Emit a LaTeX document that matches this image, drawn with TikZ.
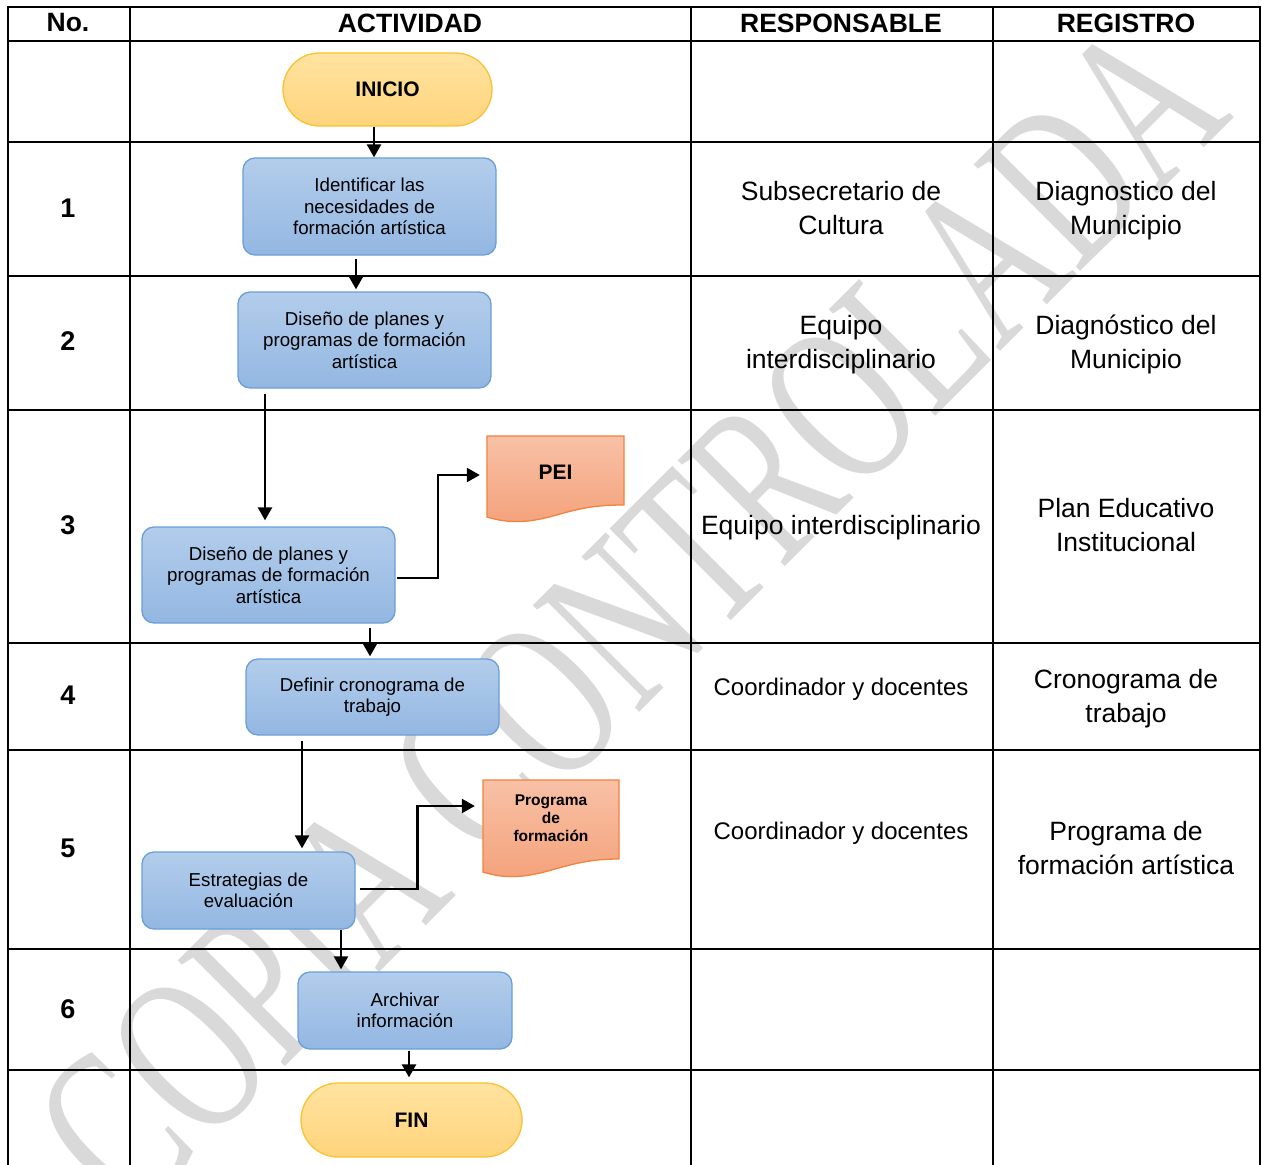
\documentclass[tikz,border=0pt]{standalone}
\usepackage{fontspec}
\setmainfont{Liberation Sans}
\newfontfamily\wmfont{Liberation Serif}
\usetikzlibrary{arrows.meta,shapes.misc}
\definecolor{bluetop}{HTML}{B3CDEB}
\definecolor{bluebot}{HTML}{93B7E2}
\definecolor{blueedge}{HTML}{6A9FDA}
\definecolor{yeltop}{HTML}{FFE3A0}
\definecolor{yelbot}{HTML}{FFD47C}
\definecolor{yeledge}{HTML}{F8C232}
\definecolor{ortop}{HTML}{F8C1A6}
\definecolor{orbot}{HTML}{F4A27B}
\definecolor{oredge}{HTML}{F0843F}
\definecolor{wmgray}{HTML}{D9D9D9}
\begin{document}
\begin{tikzpicture}[x=1pt,y=-1pt,
  gridline/.style={line width=2.2pt,black},
  actbox/.style={rectangle,rounded corners=12pt,draw=blueedge,line width=1.3pt,
    top color=bluetop,bottom color=bluebot,align=center,inner sep=0pt,
    font=\fontsize{18.7}{21.5}\selectfont},
  term/.style={rounded rectangle,draw=yeledge,line width=1.3pt,
    top color=yeltop,bottom color=yelbot,inner sep=0pt,
    font=\bfseries\fontsize{21}{24}\selectfont},
  docshape/.style={draw=oredge,line width=1.3pt,top color=ortop,bottom color=orbot},
  doctext/.style={align=center,inner sep=0pt,font=\bfseries\fontsize{21}{24}\selectfont},
  hdr/.style={font=\bfseries\fontsize{26.5}{30}\selectfont,inner sep=0pt},
  num/.style={font=\bfseries\fontsize{27}{30}\selectfont,inner sep=0pt},
  cell/.style={align=center,inner sep=0pt,font=\fontsize{26.5}{34}\selectfont},
  cellsm/.style={align=center,inner sep=0pt,font=\fontsize{24}{30}\selectfont},
  arr/.style={line width=2.4pt,black,-{Triangle[length=13pt,width=14pt]}},
  conn/.style={line width=2.4pt,black}
]
\useasboundingbox (0,0) rectangle (1262,1165);
\fill[white] (0,0) rectangle (1262,1165);

% watermark
\node[rotate=45,text=wmgray,inner sep=0pt,font=\wmfont\fontsize{230}{230}\selectfont] (wm) at (630,616)
  {\scalebox{0.67}[1]{COPIA CONTROLADA}};

% table grid
\foreach \x in {8,130,691,993,1260} \draw[gridline] (\x,6) -- (\x,1165);
\foreach \y in {7,41,142,276,410,643,750,949,1070} \draw[gridline] (7,\y) -- (1261,\y);

% headers
\node[hdr] (hno) at (68,23) {No.};
\node[hdr] (hact) at (410,23) {ACTIVIDAD};
\node[hdr] (hres) at (841,23) {RESPONSABLE};
\node[hdr] (hreg) at (1126,23) {REGISTRO};

% numbers
\node[num] (n1) at (68,208) {1};
\node[num] (n2) at (68,341) {2};
\node[num] (n3) at (68,525) {3};
\node[num] (n4) at (68,695) {4};
\node[num] (n5) at (68,848) {5};
\node[num] (n6) at (68,1009) {6};

% responsable
\node[cell] (r1) at (841,208) {Subsecretario de\\Cultura};
\node[cell] (r2) at (841,344.5) {Equipo\\interdisciplinario};
\node[cell] (r3) at (841,528) {Equipo interdisciplinario};
\node[cellsm] (r4) at (841,689) {Coordinador y docentes};
\node[cellsm] (r5) at (841,833) {Coordinador y docentes};

% registro
\node[cell] (g1) at (1126,211) {Diagnostico del\\Municipio};
\node[cell] (g2) at (1126,344) {Diagnóstico del\\Municipio};
\node[cell] (g3) at (1126,525) {Plan Educativo\\Institucional};
\node[cell] (g4) at (1126,699) {Cronograma de\\trabajo};
\node[cell] (g5) at (1126,848.5) {Programa de\\formación artística};

% document shapes
\path[docshape] (487,436) -- (624,436) -- (624,505)
  .. controls (600,505) and (585,507) .. (560,514)
  .. controls (530,523) and (510,524) .. (487,517) -- cycle;
\node[doctext,minimum width=137pt] (pei) at (555.5,472) {PEI};

\path[docshape] (483,780) -- (619,780) -- (619,859)
  .. controls (595,859) and (580,862) .. (555,869)
  .. controls (525,878) and (505,879) .. (483,872) -- cycle;
\node[doctext,minimum width=136pt,font=\bfseries\fontsize{15.5}{18}\selectfont] (prog) at (551,818) {Programa\\de\\formación};

% flow nodes
\node[term,minimum width=209pt,minimum height=73pt] (ini) at (387.5,89.5) {INICIO};
\node[actbox,minimum width=253pt,minimum height=97pt] (b1) at (369.5,206.5) {Identificar las\\necesidades de\\formación artística};
\node[actbox,minimum width=253pt,minimum height=96pt] (b2) at (364.5,340) {Diseño de planes y\\programas de formación\\artística};
\node[actbox,minimum width=253pt,minimum height=96pt] (b3) at (268.5,575) {Diseño de planes y\\programas de formación\\artística};
\node[actbox,minimum width=253pt,minimum height=76pt] (b4) at (372.5,697) {Definir cronograma de\\trabajo};
\node[actbox,minimum width=213pt,minimum height=77pt] (b5) at (248.5,890.5) {Estrategias de\\evaluación};
\node[actbox,minimum width=214pt,minimum height=77pt] (b6) at (405,1010.5) {Archivar\\información};
\node[term,minimum width=221pt,minimum height=74pt] (fin) at (411.5,1120) {FIN};

% connectors
\draw[arr] ([xshift=-13.5pt]ini.south) -- ([xshift=4.5pt]b1.north);
\draw[arr] ([xshift=-13.5pt,yshift=-3pt]b1.south) -- ([xshift=-8.5pt,yshift=2pt]b2.north);
\draw[arr] ([xshift=-99.5pt,yshift=-5pt]b2.south) -- ([xshift=-3.5pt,yshift=6pt]b3.north);
\draw[arr] ([xshift=101.5pt,yshift=-4pt]b3.south) -- ([xshift=-2.5pt,yshift=2pt]b4.north);
\draw[arr] ([xshift=-70.5pt,yshift=-5pt]b4.south) -- ([xshift=53.5pt,yshift=3pt]b5.north);
\draw[arr] ([xshift=92.5pt]b5.south) -- ([xshift=-64pt,yshift=2pt]b6.north);
\draw[arr] ([xshift=4pt,yshift=-1pt]b6.south) -- ([xshift=-2.5pt,yshift=5pt]fin.north);
\draw[arr] ([xshift=1.5pt,yshift=-3pt]b3.east) -- ++(41,0) |- ([xshift=-7pt,yshift=-3pt]pei.west);
\draw[arr] ([xshift=4pt,yshift=1.5pt]b5.east) -- ++(58,0) |- ([xshift=-8pt,yshift=12pt]prog.west);
\end{tikzpicture}
\end{document}
